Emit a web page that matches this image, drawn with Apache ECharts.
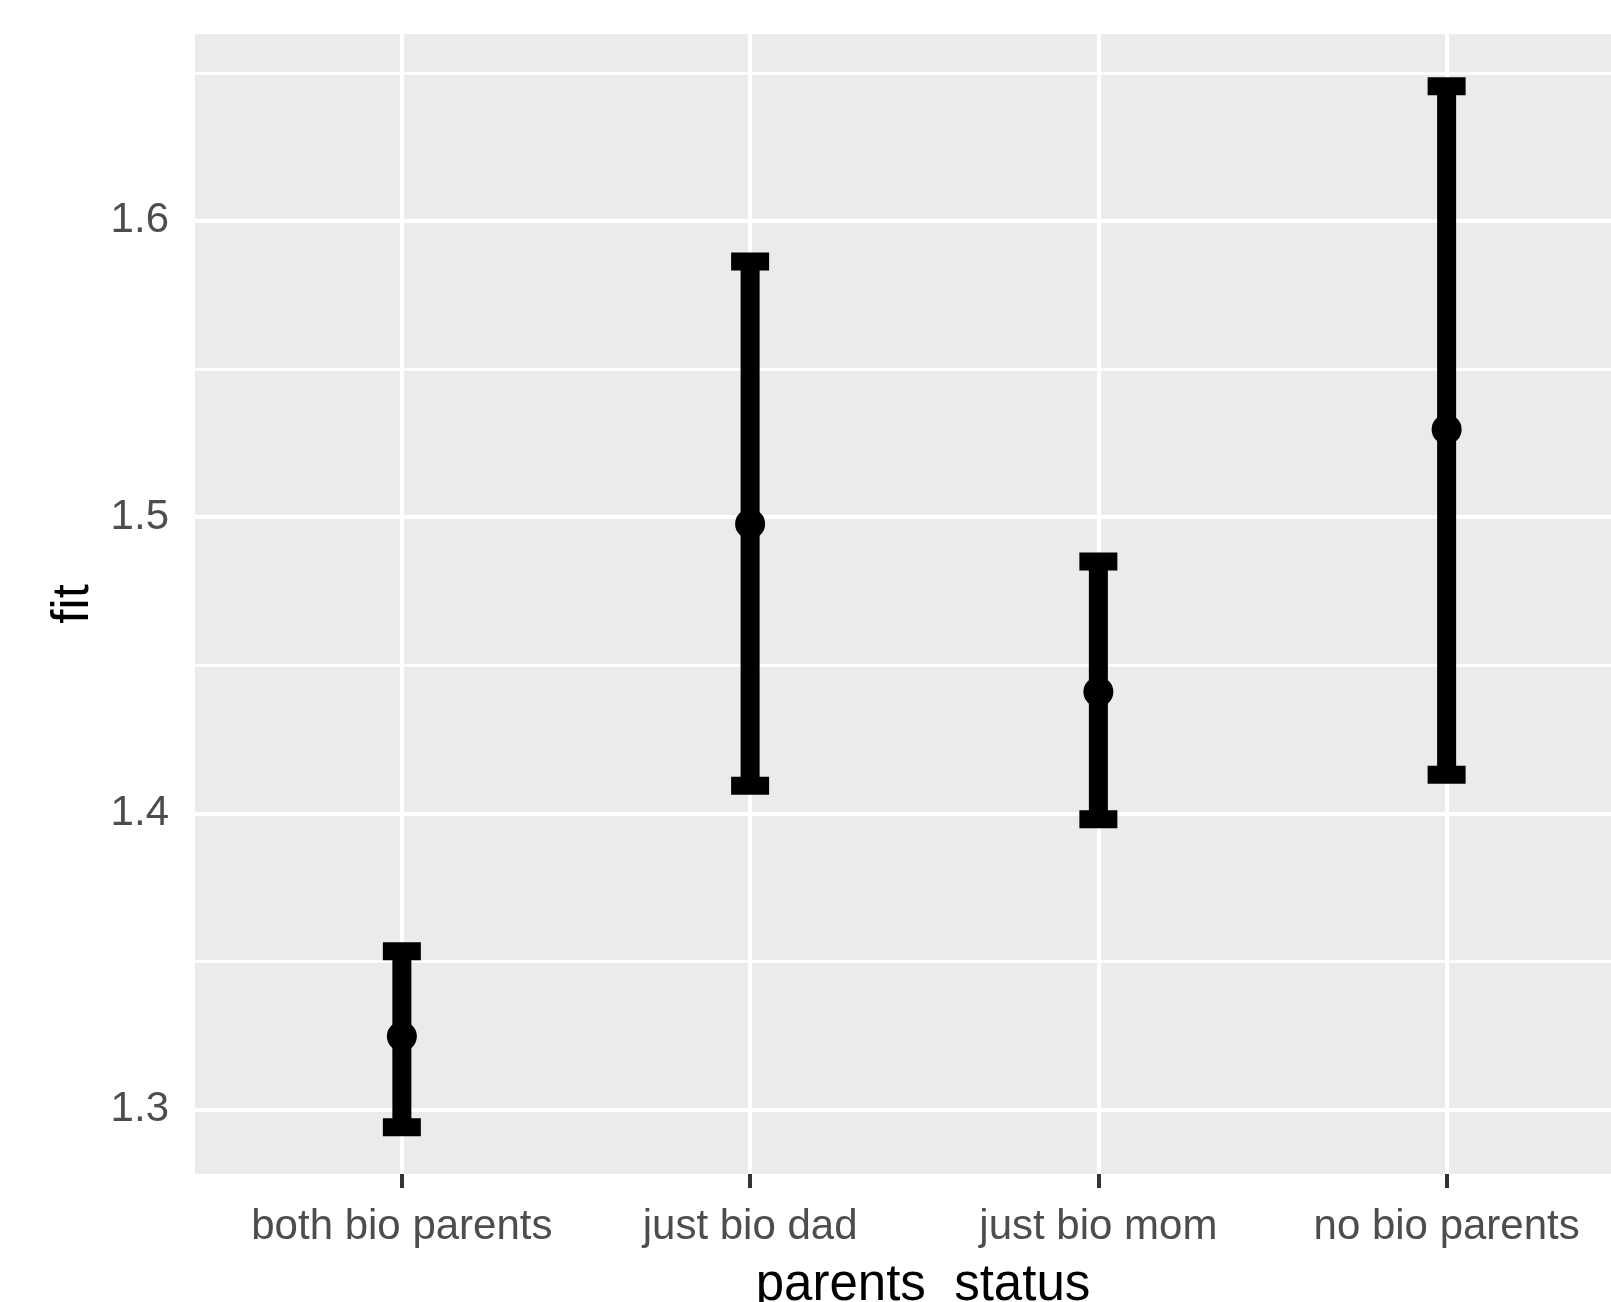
<!DOCTYPE html>
<html>
<head>
<meta charset="utf-8">
<script src="https://cdn.jsdelivr.net/npm/echarts@6/dist/echarts.min.js"></script>
<style>
html,body{margin:0;padding:0;background:#fff;}
#chart{width:1611px;height:1302px;}
</style>
</head>
<body>
<div id="chart"></div>
<script>
// ---- data ----
const categories = ['both bio parents', 'just bio dad', 'just bio mom', 'no bio parents'];
const fitValues = [1.3247, 1.4977, 1.4410, 1.5296];
const lowerValues = [1.2940, 1.4093, 1.3980, 1.4130];
const upperValues = [1.3534, 1.5863, 1.4850, 1.6455];
const yTickValues = [1.3, 1.4, 1.5, 1.6];
const yMinorValues = [1.35, 1.45, 1.55, 1.65];
const xTitle = 'parents_status';
const yTitle = 'fit';

// ---- styling ----
const FONT = "'Liberation Sans', Arial, sans-serif";
const BAR_W = 19, CAP_W = 38, CAP_H = 18, POINT = 30;

const catIdx = categories.map((c, i) => i);
const errData = catIdx.map(i => [i, lowerValues[i], upperValues[i]]);
const ptData = catIdx.map(i => [i, fitValues[i]]);

const gridLines = [];
yMinorValues.forEach(v => gridLines.push({ yAxis: v, lineStyle: { color: '#fff', width: 2.5, type: 'solid' } }));
yTickValues.forEach(v => gridLines.push({ yAxis: v, lineStyle: { color: '#fff', width: 4, type: 'solid' } }));
catIdx.forEach(v => gridLines.push({ xAxis: v, lineStyle: { color: '#fff', width: 4, type: 'solid' } }));

const chart = echarts.init(document.getElementById('chart'), null, { renderer: 'canvas' });
chart.setOption({
  animation: false,
  backgroundColor: '#ffffff',
  grid: {
    left: 195, top: 34, right: 0, bottom: 128,
    outerBoundsMode: 'none',
    containLabel: false,
    show: true, backgroundColor: '#EBEBEB', borderWidth: 0
  },
  xAxis: {
    type: 'value',
    min: -0.594, max: 3.472,
    name: xTitle,
    nameLocation: 'middle',
    nameGap: 86,
    nameTextStyle: { fontFamily: FONT, fontSize: 51, color: '#000', padding: [0, 0, 0, 40] },
    axisLine: { show: false },
    axisTick: { show: true, customValues: catIdx, length: 14, lineStyle: { color: '#333333', width: 4 } },
    axisLabel: {
      customValues: catIdx,
      formatter: v => categories[Math.round(v)],
      fontFamily: FONT, fontSize: 42, color: '#4D4D4D', margin: 32
    },
    splitLine: { show: false }
  },
  yAxis: {
    type: 'value',
    min: 1.2782, max: 1.6631,
    name: yTitle,
    nameLocation: 'middle',
    nameGap: 92,
    nameTextStyle: { fontFamily: FONT, fontSize: 51, color: '#000' },
    axisLine: { show: false },
    axisTick: { show: true, customValues: yTickValues, length: 14, lineStyle: { color: '#333333', width: 4 } },
    axisLabel: {
      customValues: yTickValues,
      formatter: v => v.toFixed(1),
      fontFamily: FONT, fontSize: 42, color: '#4D4D4D', margin: 26
    },
    splitLine: { show: false }
  },
  series: [
    {
      type: 'line',
      data: [],
      z: 1,
      silent: true,
      markLine: {
        z: 1,
        silent: true,
        symbol: ['none', 'none'],
        label: { show: false },
        emphasis: { disabled: true },
        data: gridLines
      }
    },
    {
      type: 'custom',
      z: 3,
      silent: true,
      data: errData,
      renderItem: function (params, api) {
        const x = api.value(0), lo = api.value(1), hi = api.value(2);
        const pLo = api.coord([x, lo]);
        const pHi = api.coord([x, hi]);
        return {
          type: 'group',
          children: [
            { type: 'line', shape: { x1: pLo[0], y1: pLo[1], x2: pHi[0], y2: pHi[1] },
              style: { stroke: '#000', lineWidth: BAR_W } },
            { type: 'rect', shape: { x: pHi[0] - CAP_W / 2, y: pHi[1] - CAP_H / 2, width: CAP_W, height: CAP_H },
              style: { fill: '#000' } },
            { type: 'rect', shape: { x: pLo[0] - CAP_W / 2, y: pLo[1] - CAP_H / 2, width: CAP_W, height: CAP_H },
              style: { fill: '#000' } }
          ]
        };
      }
    },
    {
      type: 'scatter',
      z: 4,
      silent: true,
      data: ptData,
      symbol: 'circle',
      symbolSize: POINT,
      itemStyle: { color: '#000', opacity: 1 }
    }
  ]
});
</script>
</body>
</html>
